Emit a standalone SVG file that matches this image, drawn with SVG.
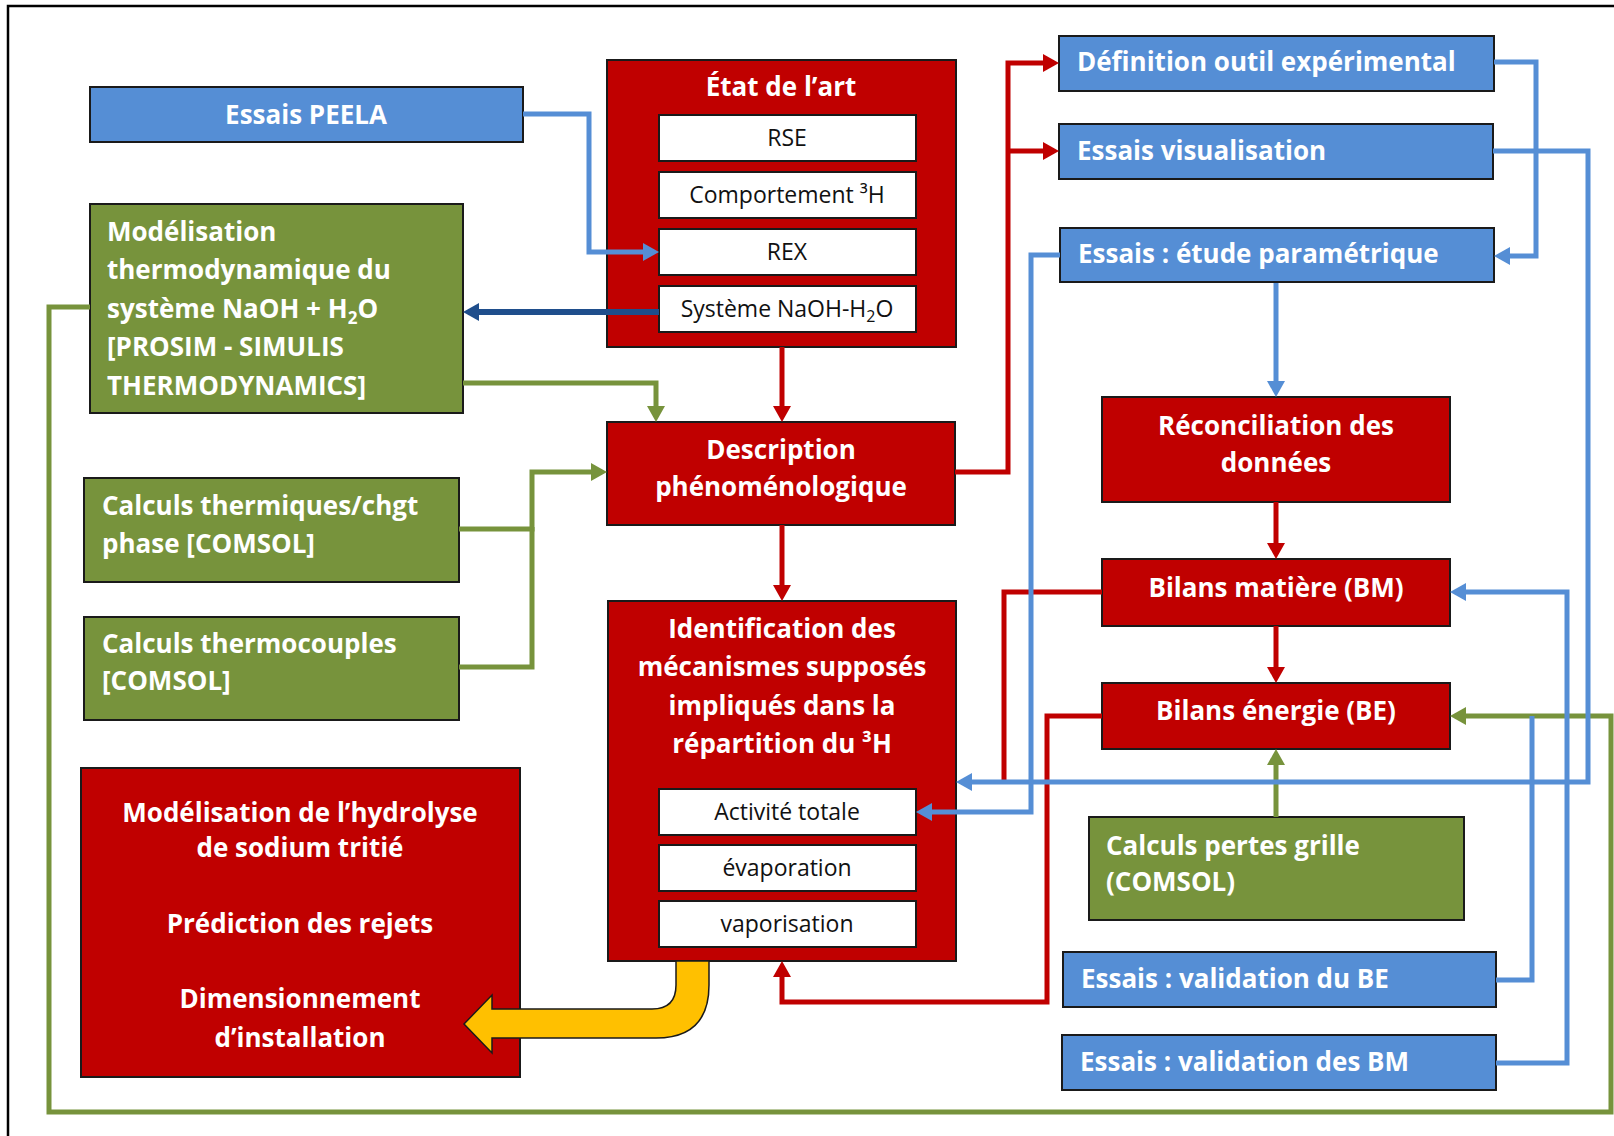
<svg xmlns="http://www.w3.org/2000/svg" width="1614" height="1136" viewBox="0 0 1614 1136">
<defs>
<style>
.red{fill:#C00000;stroke:#1a1a1a;stroke-width:2}
.blue{fill:#558ED5;stroke:#1a1a1a;stroke-width:2}
.green{fill:#77933C;stroke:#1a1a1a;stroke-width:2}
.white{fill:#ffffff;stroke:#1a1a1a;stroke-width:2}
.tb{font-family:'Open Sans',Lato,'Liberation Sans',sans-serif;font-weight:bold;font-size:26px;fill:#ffffff}
.tw{font-family:'Open Sans',Lato,'Liberation Sans',sans-serif;font-size:23px;fill:#111111;text-anchor:middle}
.c{text-anchor:middle}
.lb{fill:none;stroke:#558ED5;stroke-width:5}
.lr{fill:none;stroke:#C00000;stroke-width:5}
.lg{fill:none;stroke:#77933C;stroke-width:5}
.ld{fill:none;stroke:#1F4E8C;stroke-width:6}
</style>
<marker id="ab" markerUnits="userSpaceOnUse" markerWidth="16" markerHeight="18" refX="11" refY="9" orient="auto" viewBox="0 0 16 18"><path d="M0,0 L16,9 L0,18 z" fill="#558ED5"/></marker>
<marker id="ar" markerUnits="userSpaceOnUse" markerWidth="16" markerHeight="18" refX="11" refY="9" orient="auto" viewBox="0 0 16 18"><path d="M0,0 L16,9 L0,18 z" fill="#C00000"/></marker>
<marker id="ag" markerUnits="userSpaceOnUse" markerWidth="16" markerHeight="18" refX="11" refY="9" orient="auto" viewBox="0 0 16 18"><path d="M0,0 L16,9 L0,18 z" fill="#77933C"/></marker>
<marker id="ad" markerUnits="userSpaceOnUse" markerWidth="16" markerHeight="18" refX="11" refY="9" orient="auto" viewBox="0 0 16 18"><path d="M0,0 L16,9 L0,18 z" fill="#1F4E8C"/></marker>
</defs>
<rect x="0" y="0" width="1614" height="1136" fill="#ffffff"/>
<rect x="8" y="6" width="1640" height="1160" fill="none" stroke="#000" stroke-width="2.5"/>

<g id="essais-peela">
<rect class="blue" x="90" y="87" width="433" height="55"/>
<text class="tb c" x="306" y="124">Essais PEELA</text>
</g>

<g id="modelisation-thermo">
<rect class="green" x="90" y="204" width="373" height="209"/>
<text class="tb" x="107" y="241">Modélisation</text>
<text class="tb" x="107" y="279">thermodynamique du</text>
<text class="tb" x="107" y="318">système NaOH + H<tspan font-size="17" dy="6">2</tspan><tspan dy="-6">O</tspan></text>
<text class="tb" x="107" y="356">[PROSIM - SIMULIS</text>
<text class="tb" x="107" y="395">THERMODYNAMICS]</text>
</g>

<g id="etat-art">
<rect class="red" x="607" y="60" width="349" height="287"/>
<text class="tb c" x="781" y="96">État de l’art</text>
<rect class="white" x="659" y="115" width="257" height="46"/>
<text class="tw" x="787" y="146">RSE</text>
<rect class="white" x="659" y="172" width="257" height="46"/>
<text class="tw" x="787" y="203">Comportement ³H</text>
<rect class="white" x="659" y="229" width="257" height="46"/>
<text class="tw" x="787" y="260">REX</text>
<rect class="white" x="659" y="286" width="257" height="46"/>
<text class="tw" x="787" y="317">Système NaOH-H<tspan font-size="16" dy="5">2</tspan><tspan dy="-5">O</tspan></text>
</g>

<g id="description">
<rect class="red" x="607" y="422" width="348" height="103"/>
<text class="tb c" x="781" y="459">Description</text>
<text class="tb c" x="781" y="496">phénoménologique</text>
</g>

<g id="calculs-thermiques">
<rect class="green" x="84" y="478" width="375" height="104"/>
<text class="tb" x="102" y="515">Calculs thermiques/chgt</text>
<text class="tb" x="102" y="553">phase [COMSOL]</text>
</g>

<g id="calculs-thermocouples">
<rect class="green" x="84" y="617" width="375" height="103"/>
<text class="tb" x="102" y="653">Calculs thermocouples</text>
<text class="tb" x="102" y="690">[COMSOL]</text>
</g>

<g id="identification">
<rect class="red" x="608" y="601" width="348" height="360"/>
<text class="tb c" x="782" y="638">Identification des</text>
<text class="tb c" x="782" y="676">mécanismes supposés</text>
<text class="tb c" x="782" y="715">impliqués dans la</text>
<text class="tb c" x="782" y="753">répartition du ³H</text>
<rect class="white" x="659" y="789" width="257" height="46"/>
<text class="tw" x="787" y="820">Activité totale</text>
<rect class="white" x="659" y="845" width="257" height="46"/>
<text class="tw" x="787" y="876">évaporation</text>
<rect class="white" x="659" y="901" width="257" height="46"/>
<text class="tw" x="787" y="932">vaporisation</text>
</g>

<g id="hydrolyse">
<rect class="red" x="81" y="768" width="439" height="309"/>
<text class="tb c" x="300" y="822">Modélisation de l’hydrolyse</text>
<text class="tb c" x="300" y="857">de sodium tritié</text>
<text class="tb c" x="300" y="933">Prédiction des rejets</text>
<text class="tb c" x="300" y="1008">Dimensionnement</text>
<text class="tb c" x="300" y="1047">d’installation</text>
</g>

<g id="definition">
<rect class="blue" x="1059" y="36" width="435" height="55"/>
<text class="tb" x="1077" y="71">Définition outil expérimental</text>
</g>

<g id="visualisation">
<rect class="blue" x="1059" y="124" width="434" height="55"/>
<text class="tb" x="1077" y="160">Essais visualisation</text>
</g>

<g id="etude-parametrique">
<rect class="blue" x="1060" y="228" width="434" height="54"/>
<text class="tb" x="1078" y="263">Essais : étude paramétrique</text>
</g>

<g id="reconciliation">
<rect class="red" x="1102" y="397" width="348" height="105"/>
<text class="tb c" x="1276" y="435">Réconciliation des</text>
<text class="tb c" x="1276" y="472">données</text>
</g>

<g id="bilans-matiere">
<rect class="red" x="1102" y="559" width="348" height="67"/>
<text class="tb c" x="1276" y="597">Bilans matière (BM)</text>
</g>

<g id="bilans-energie">
<rect class="red" x="1102" y="683" width="348" height="66"/>
<text class="tb c" x="1276" y="720">Bilans énergie (BE)</text>
</g>

<g id="pertes-grille">
<rect class="green" x="1089" y="817" width="375" height="103"/>
<text class="tb" x="1106" y="855">Calculs pertes grille</text>
<text class="tb" x="1106" y="891">(COMSOL)</text>
</g>

<g id="validation-be">
<rect class="blue" x="1063" y="952" width="433" height="55"/>
<text class="tb" x="1081" y="988">Essais : validation du BE</text>
</g>

<g id="validation-bm">
<rect class="blue" x="1062" y="1035" width="434" height="55"/>
<text class="tb" x="1080" y="1071">Essais : validation des BM</text>
</g>

<g id="connectors">
<path class="lg" d="M463,383 H656 V417" marker-end="url(#ag)"/>
<path class="lg" d="M459,529 H532 V472 H602" marker-end="url(#ag)"/>
<path class="lg" d="M459,667 H532 V527"/>
<path class="lg" d="M90,307 H49 V1112 H1611 V716 H1455" marker-end="url(#ag)"/>
<path class="lg" d="M1276,817 V754" marker-end="url(#ag)"/>
<path class="lr" d="M782,347 V417" marker-end="url(#ar)"/>
<path class="lr" d="M782,525 V596" marker-end="url(#ar)"/>
<path class="lr" d="M955,472 H1008 V63 H1054" marker-end="url(#ar)"/>
<path class="lr" d="M1008,151 H1054" marker-end="url(#ar)"/>
<path class="lr" d="M1276,502 V554" marker-end="url(#ar)"/>
<path class="lr" d="M1276,626 V678" marker-end="url(#ar)"/>
<path class="lr" d="M1102,592 H1004 V782"/>
<path class="lr" d="M1102,716 H1047 V1002 H782 V966" marker-end="url(#ar)"/>
<path class="lb" d="M523,114 H589 V252 H654" marker-end="url(#ab)"/>
<path class="lb" d="M1494,62 H1536 V256 H1499" marker-end="url(#ab)"/>
<path class="lb" d="M1493,151 H1588 V782 H961" marker-end="url(#ab)"/>
<path class="lb" d="M1060,255 H1031 V812 H921" marker-end="url(#ab)"/>
<path class="lb" d="M1276,283 V392" marker-end="url(#ab)"/>
<path class="lb" d="M1496,980 H1532 V716"/>
<path class="lb" d="M1496,1063 H1567 V592 H1455" marker-end="url(#ab)"/>
<path class="ld" d="M659,312 H468" marker-end="url(#ad)"/>
<path d="M676,961 L676,985 Q676,1009 652,1009 L492,1009 L492,995 L464,1024 L492,1053 L492,1038 L656,1038 Q709,1038 709,985 L709,961 Z" fill="#FFC000" stroke="#1a1a1a" stroke-width="1.5"/>
</g>
</svg>
